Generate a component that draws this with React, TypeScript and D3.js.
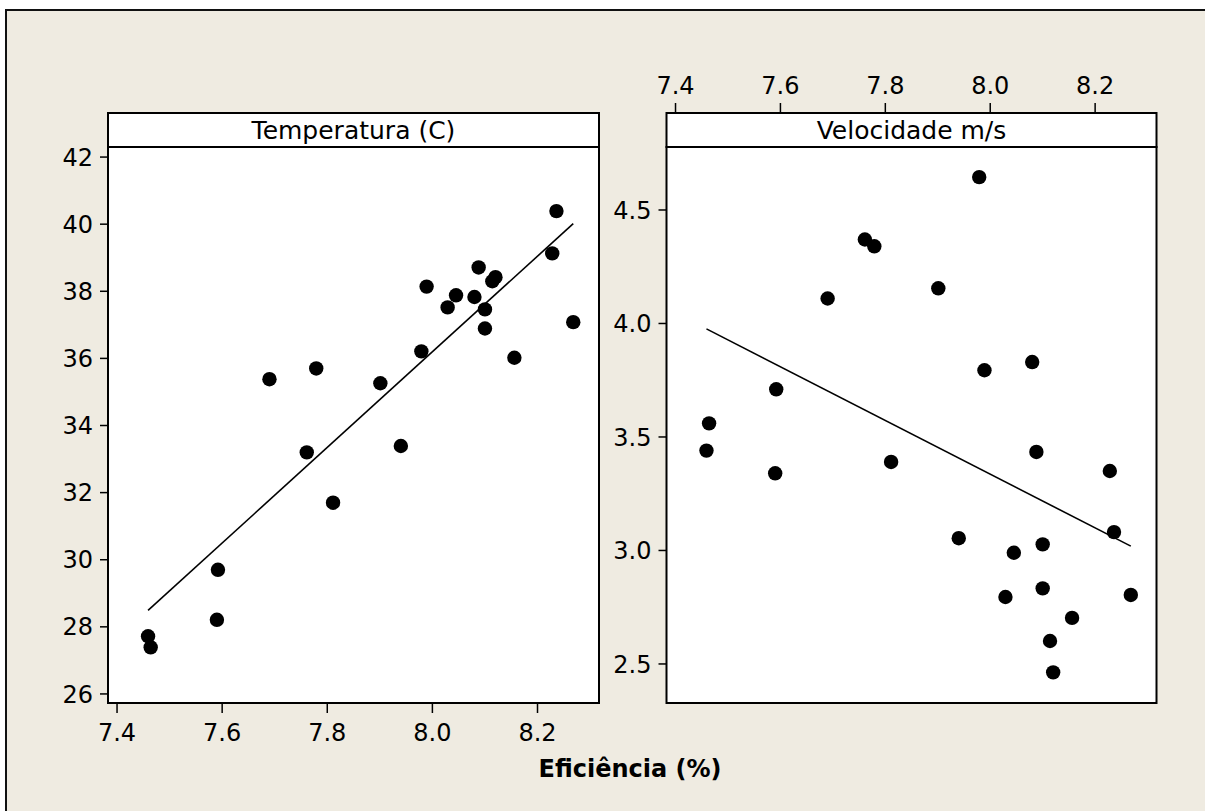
import React, { useEffect, useRef } from "react";
import * as d3 from "d3";

// Eficiência (%) for each sample, with matching temperature and wind speed
const eficiencia = [
  7.459, 7.464, 7.59, 7.592, 7.69, 7.761, 7.779, 7.811, 7.901, 7.94, 7.979,
  7.989, 8.029, 8.045, 8.08, 8.088, 8.1, 8.1, 8.114, 8.12, 8.156, 8.228,
  8.236, 8.268,
];
const temperatura = [
  27.72, 27.39, 28.21, 29.7, 35.38, 33.2, 35.7, 31.7, 35.26, 33.39, 36.21,
  38.14, 37.52, 37.88, 37.83, 38.71, 37.46, 36.89, 38.3, 38.42, 36.02, 39.13,
  40.39, 37.08,
];
const velocidade = [
  3.44, 3.56, 3.34, 3.71, 4.11, 4.37, 4.34, 3.39, 4.155, 3.054, 4.645, 3.794,
  2.795, 2.99, 3.83, 3.434, 3.027, 2.833, 2.601, 2.463, 2.703, 3.35, 3.081,
  2.804,
];

const panelTitles = ["Temperatura (C)", "Velocidade m/s"];
const xTicks = [7.4, 7.6, 7.8, 8.0, 8.2];
const tempTicks = [26, 28, 30, 32, 34, 36, 38, 40, 42];
const velTicks = [2.5, 3.0, 3.5, 4.0, 4.5];
const xTitle = "Eficiência (%)";

const W = 1205;
const H = 811;
const FONT = "DejaVu Sans";

const fit = (xs: number[], ys: number[]) => {
  const mx = d3.mean(xs)!;
  const my = d3.mean(ys)!;
  let sxy = 0;
  let sxx = 0;
  xs.forEach((x, i) => {
    sxy += (x - mx) * (ys[i] - my);
    sxx += (x - mx) * (x - mx);
  });
  const b = sxy / sxx;
  return (x: number) => my + b * (x - mx);
};

const App: React.FC = () => {
  const svgRef = useRef<SVGSVGElement | null>(null);

  useEffect(() => {
    if (!svgRef.current) return;
    const svg = d3.select(svgRef.current);
    svg.selectAll("*").remove();

    svg.append("rect").attr("width", W).attr("height", H).attr("fill", "white");
    svg
      .append("rect")
      .attr("x", 6)
      .attr("y", 10)
      .attr("width", W - 6)
      .attr("height", H - 10)
      .attr("fill", "#efebe1");
    svg
      .append("path")
      .attr("d", `M6,${H} V10 H${W}`)
      .attr("fill", "none")
      .attr("stroke", "#111")
      .attr("stroke-width", 2);

    const top = 147;
    const bottom = 703;
    const stripTop = 113;
    const xDomain: [number, number] = [7.3828, 8.317];

    const panels = [
      {
        left: 108,
        right: 599,
        ys: temperatura,
        yDomain: [25.73, 42.3] as [number, number],
        yTicks: tempTicks,
        yFmt: d3.format("d"),
        xAxisBottom: true,
      },
      {
        left: 666.5,
        right: 1156.5,
        ys: velocidade,
        yDomain: [2.328, 4.7775] as [number, number],
        yTicks: velTicks,
        yFmt: d3.format(".1f"),
        xAxisBottom: false,
      },
    ];

    panels.forEach((p, pi) => {
      const x = d3.scaleLinear().domain(xDomain).range([p.left, p.right]);
      const y = d3.scaleLinear().domain(p.yDomain).range([bottom, top]);
      const g = svg.append("g");

      // plot area
      g.append("rect")
        .attr("x", p.left)
        .attr("y", top)
        .attr("width", p.right - p.left)
        .attr("height", bottom - top)
        .attr("fill", "white");

      // regression line
      const f = fit(eficiencia, p.ys);
      const [x0, x1] = d3.extent(eficiencia) as [number, number];
      g.append("line")
        .attr("x1", x(x0))
        .attr("y1", y(f(x0)))
        .attr("x2", x(x1))
        .attr("y2", y(f(x1)))
        .attr("stroke", "black")
        .attr("stroke-width", 1.6);

      g.selectAll("circle.pt")
        .data(eficiencia)
        .join("circle")
        .attr("class", "pt")
        .attr("cx", (d) => x(d))
        .attr("cy", (_, i) => y(p.ys[i]))
        .attr("r", 7.2)
        .attr("fill", "black");

      g.append("rect")
        .attr("x", p.left)
        .attr("y", top)
        .attr("width", p.right - p.left)
        .attr("height", bottom - top)
        .attr("fill", "none")
        .attr("stroke", "black")
        .attr("stroke-width", 2);

      // strip
      g.append("rect")
        .attr("x", p.left)
        .attr("y", stripTop)
        .attr("width", p.right - p.left)
        .attr("height", top - stripTop)
        .attr("fill", "white")
        .attr("stroke", "black")
        .attr("stroke-width", 2);
      g.append("text")
        .attr("x", (p.left + p.right) / 2)
        .attr("y", 139)
        .attr("text-anchor", "middle")
        .attr("font-family", FONT)
        .attr("font-size", 25)
        .attr("fill", "black")
        .text(panelTitles[pi]);

      // y axis
      p.yTicks.forEach((t) => {
        g.append("line")
          .attr("x1", p.left - 8)
          .attr("x2", p.left)
          .attr("y1", y(t))
          .attr("y2", y(t))
          .attr("stroke", "black")
          .attr("stroke-width", 1.5);
        g.append("text")
          .attr("x", p.left - 15)
          .attr("y", y(t))
          .attr("dy", "0.36em")
          .attr("text-anchor", "end")
          .attr("font-family", FONT)
          .attr("font-size", 24)
          .attr("fill", "black")
          .text(p.yFmt(t));
      });

      // x axis: bottom on the left panel, top on the right one
      xTicks.forEach((t) => {
        const y1 = p.xAxisBottom ? bottom : stripTop;
        const y2 = p.xAxisBottom ? bottom + 10 : stripTop - 10;
        g.append("line")
          .attr("x1", x(t))
          .attr("x2", x(t))
          .attr("y1", y1)
          .attr("y2", y2)
          .attr("stroke", "black")
          .attr("stroke-width", 1.5);
        g.append("text")
          .attr("x", x(t))
          .attr("y", p.xAxisBottom ? 741 : 94)
          .attr("text-anchor", "middle")
          .attr("font-family", FONT)
          .attr("font-size", 24)
          .attr("fill", "black")
          .text(d3.format(".1f")(t));
      });
    });

    svg
      .append("text")
      .attr("x", 630)
      .attr("y", 777)
      .attr("text-anchor", "middle")
      .attr("font-family", FONT)
      .attr("font-size", 24)
      .attr("font-weight", "bold")
      .attr("fill", "black")
      .text(xTitle);
  }, []);

  return (
    <div style={{ position: "absolute", left: 0, top: 0 }}>
      <svg ref={svgRef} width={W} height={H} style={{ display: "block" }}></svg>
    </div>
  );
};

export default App;
